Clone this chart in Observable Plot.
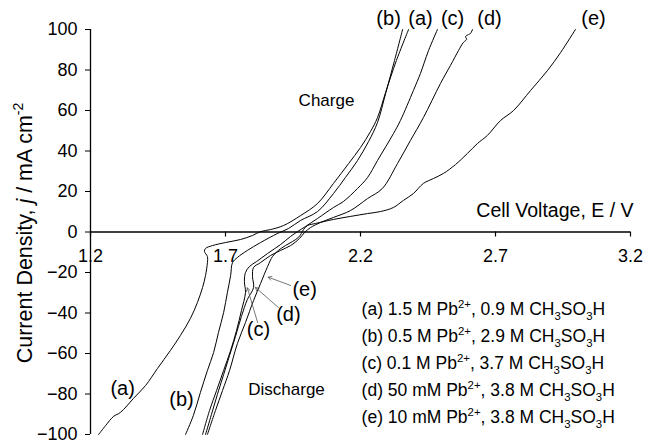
<!DOCTYPE html>
<html><head><meta charset="utf-8">
<script src="https://cdn.jsdelivr.net/npm/d3@7"></script>
<script src="https://cdn.jsdelivr.net/npm/@observablehq/plot@0.6"></script>
<style>body{margin:0;background:#fff;} svg{display:block}</style>
</head><body>
<script>
// ---- data (cell voltage V, current density mA cm^-2) ----
const aV = [1.230,1.256,1.285,1.311,1.359,1.404,1.448,1.496,1.533,1.570,1.596,1.615,1.626,1.633,1.633,1.622,1.626,1.652,1.700,1.756,1.800,1.830,1.867,1.915,1.978,2.041,2.100,2.156,2.200,2.237,2.263,2.293,2.333,2.378];
const aJ = [-100,-95.6,-91.1,-89.1,-82.2,-75.8,-67.4,-58.5,-51.1,-42.7,-34.8,-27.4,-21.5,-15.1,-12.1,-9.6,-8.1,-6.7,-5.2,-3.7,-1.7,0.2,1.2,3.2,8.1,14.1,24.0,33.8,41.7,49.6,56.5,68.9,84.7,100];
const bV = [1.552,1.581,1.607,1.633,1.656,1.674,1.693,1.707,1.719,1.726,1.744,1.781,1.830,1.893,1.933,1.978,2.041,2.100,2.144,2.189,2.230,2.263,2.293,2.326,2.356];
const bJ = [-100,-90.6,-79.3,-68.4,-59.5,-49.6,-39.8,-29.9,-21.5,-15.1,-12.6,-9.1,-5.2,-0.7,1.7,5.7,10.1,19.0,26.9,35.3,44.7,54.1,68.4,84.7,100];
const cV = [1.615,1.641,1.667,1.693,1.719,1.741,1.759,1.774,1.770,1.774,1.789,1.815,1.856,1.904,1.941,1.967,1.996,2.041,2.100,2.137,2.189,2.226,2.263,2.322,2.348,2.396,2.422,2.452,2.485];
const cJ = [-100,-88.1,-78.3,-68.4,-58.5,-48.6,-38.8,-29.9,-24.4,-20.0,-17.0,-14.6,-10.6,-6.2,-2.2,0.2,2.7,6.7,12.1,15.1,21.5,26.9,35.3,48.6,55.1,69.9,78.3,89.6,100];
const dV = [1.626,1.648,1.670,1.693,1.715,1.737,1.759,1.781,1.804,1.800,1.804,1.830,1.867,1.904,1.941,1.974,1.993,2.015,2.052,2.100,2.163,2.226,2.281,2.337,2.385,2.433,2.496,2.533,2.563,2.581,2.593,2.589,2.600,2.607,2.615];
const dJ = [-100,-90.1,-80.2,-70.4,-61.0,-51.6,-41.7,-33.3,-27.4,-22.0,-17.5,-15.1,-11.6,-9.1,-6.7,-3.2,-0.2,2.2,4.7,7.2,10.6,16.5,21.5,33.8,45.2,56.5,73.3,82.2,89.6,93.6,95.1,96.5,97.5,98.0,100];
const eV = [1.633,1.663,1.689,1.715,1.744,1.774,1.804,1.830,1.856,1.874,1.896,1.922,1.948,1.970,1.981,1.989,2.004,2.033,2.100,2.163,2.226,2.274,2.322,2.359,2.396,2.433,2.470,2.507,2.552,2.596,2.633,2.670,2.719,2.767,2.830,2.893,2.941,2.996];
const eJ = [-100,-88.1,-78.3,-68.4,-55.1,-44.7,-33.8,-25.4,-17.0,-12.1,-9.1,-6.7,-4.7,-2.7,-0.7,1.2,3.2,4.2,6.2,7.7,9.1,10.1,12.1,15.6,19.0,24.0,26.4,28.9,33.3,38.8,43.7,47.7,55.1,60.0,69.9,79.8,88.6,100];

const seriesKeys = ["a","b","c","d","e"];
const legendLabels = [
  "(a) 1.5 M Pb^{2+}, 0.9 M CH_{3}SO_{3}H",
  "(b) 0.5 M Pb^{2+}, 2.9 M CH_{3}SO_{3}H",
  "(c) 0.1 M Pb^{2+}, 3.7 M CH_{3}SO_{3}H",
  "(d) 50 mM Pb^{2+}, 3.8 M CH_{3}SO_{3}H",
  "(e) 10 mM Pb^{2+}, 3.8 M CH_{3}SO_{3}H"
];
const xTicks = [1.2, 1.7, 2.2, 2.7, 3.2];
const yTicks = [-100, -80, -60, -40, -20, 0, 20, 40, 60, 80, 100];
const xLabel = "Cell Voltage, E / V";
const yLabel = "Current Density, *{j} / mA cm^{-2}";

// ---- annotation placement (data coordinates) ----
const topTags = [{t:"(b)",v:2.304},{t:"(a)",v:2.422},{t:"(c)",v:2.541},{t:"(d)",v:2.678},{t:"(e)",v:3.063}];
const lowTags = [{t:"(a)",v:1.319,j:-77.3},{t:"(b)",v:1.537,j:-82.7},{t:"(c)",v:1.822,j:-48.1},{t:"(d)",v:1.933,j:-40.7},{t:"(e)",v:1.993,j:-28.4}];
const arrows = [
  {x1:1.819,y1:-44.7,x2:1.781,y2:-27.6},
  {x1:1.896,y1:-37.3,x2:1.811,y2:-27.4},
  {x1:1.941,y1:-26.4,x2:1.858,y2:-22.3}
];
const words = [{t:"Charge",v:2.074,j:64.9},{t:"Discharge",v:1.926,j:-77.8}];

const curves = {a:[aV,aJ], b:[bV,bJ], c:[cV,cJ], d:[dV,dJ], e:[eV,eJ]};
const rows = seriesKeys.flatMap(s => curves[s][0].map((v,i) => ({s, v, j: curves[s][1][i]})));

const FONT = "'Liberation Sans', Arial, Helvetica, sans-serif";

const chart = Plot.plot({
  width: 645, height: 444,
  marginLeft: 90, marginRight: 15, marginTop: 29, marginBottom: 10,
  style: {fontFamily: FONT, background: "white", color: "black", overflow: "visible"},
  x: {domain: [1.2, 3.2], axis: null},
  y: {domain: [-100, 100]},
  marks: [
    Plot.axisY({ticks: yTicks, tickSize: 5, tickPadding: 8, fontSize: 18, label: null, stroke: "black", fill: "black"}),
    Plot.ruleX([1.2], {x: d => d, stroke: "black", strokeWidth: 1.3}),
    Plot.ruleY([0], {y: d => d, stroke: "black", strokeWidth: 1.3}),
    Plot.ruleX(xTicks, {x: d => d, y1: () => 0, y2: () => 0, insetBottom: -5, stroke: "black", strokeWidth: 1.2}),
    Plot.text(xTicks, {x: d => d, y: () => 0, dy: 24.5, text: d => d.toFixed(1), fontSize: 18, fill: "black"}),
    Plot.line(rows, {x: "v", y: "j", z: "s", stroke: "black", strokeWidth: 1, curve: "catmull-rom"}),
    Plot.arrow(arrows, {x1: "x1", y1: "y1", x2: "x2", y2: "y2", stroke: "#555", strokeWidth: 0.8, headLength: 7}),
    Plot.text(topTags, {x: "v", y: () => 105.4, text: "t", fontSize: 20, fill: "black"}),
    Plot.text(lowTags, {x: "v", y: "j", text: "t", fontSize: 20, fill: "black"}),
    Plot.text(words, {x: "v", y: "j", text: "t", fontSize: 17, fill: "black"}),
    Plot.text(legendLabels, {x: () => 2.204, y: (d, i) => -38.3 - i * 13.33, text: d => d, textAnchor: "start", fontSize: 17.5, fill: "black"}),
    Plot.text([xLabel], {x: () => 3.2, y: () => 10.6, dx: 3, text: d => d, textAnchor: "end", fontSize: 19.5, fill: "black"}),
    Plot.text([yLabel], {frameAnchor: "left", dx: -65, dy: 1, rotate: -90, textAnchor: "middle", text: d => d, fontSize: 21.5, fill: "black"})
  ]
});
document.body.appendChild(chart);

// rich text: ^{sup}, _{sub}, *{italic}
function rich(el) {
  const fs = parseFloat(getComputedStyle(el).fontSize);
  const s = el.textContent;
  const re = /(\^\{[^}]*\}|_\{[^}]*\}|\*\{[^}]*\})/g;
  const parts = []; let last = 0, m;
  while ((m = re.exec(s))) {
    if (m.index > last) parts.push(["n", s.slice(last, m.index)]);
    parts.push([m[0][0], m[0].slice(2, -1)]);
    last = re.lastIndex;
  }
  if (last < s.length) parts.push(["n", s.slice(last)]);
  el.textContent = "";
  let shift = 0;
  for (const [k, t] of parts) {
    const ts = document.createElementNS("http://www.w3.org/2000/svg", "tspan");
    let target = 0;
    if (k === "^") { target = -0.42 * fs; ts.setAttribute("font-size", (0.65 * fs).toFixed(1)); }
    else if (k === "_") { target = 0.25 * fs; ts.setAttribute("font-size", (0.65 * fs).toFixed(1)); }
    else if (k === "*") ts.setAttribute("font-style", "italic");
    const dy = target - shift;
    if (dy) ts.setAttribute("dy", dy.toFixed(2));
    shift = target;
    ts.textContent = t;
    el.appendChild(ts);
  }
}
chart.querySelectorAll("text").forEach(t => { if (/[\^_*]\{/.test(t.textContent)) rich(t); });
</script>
</body></html>
